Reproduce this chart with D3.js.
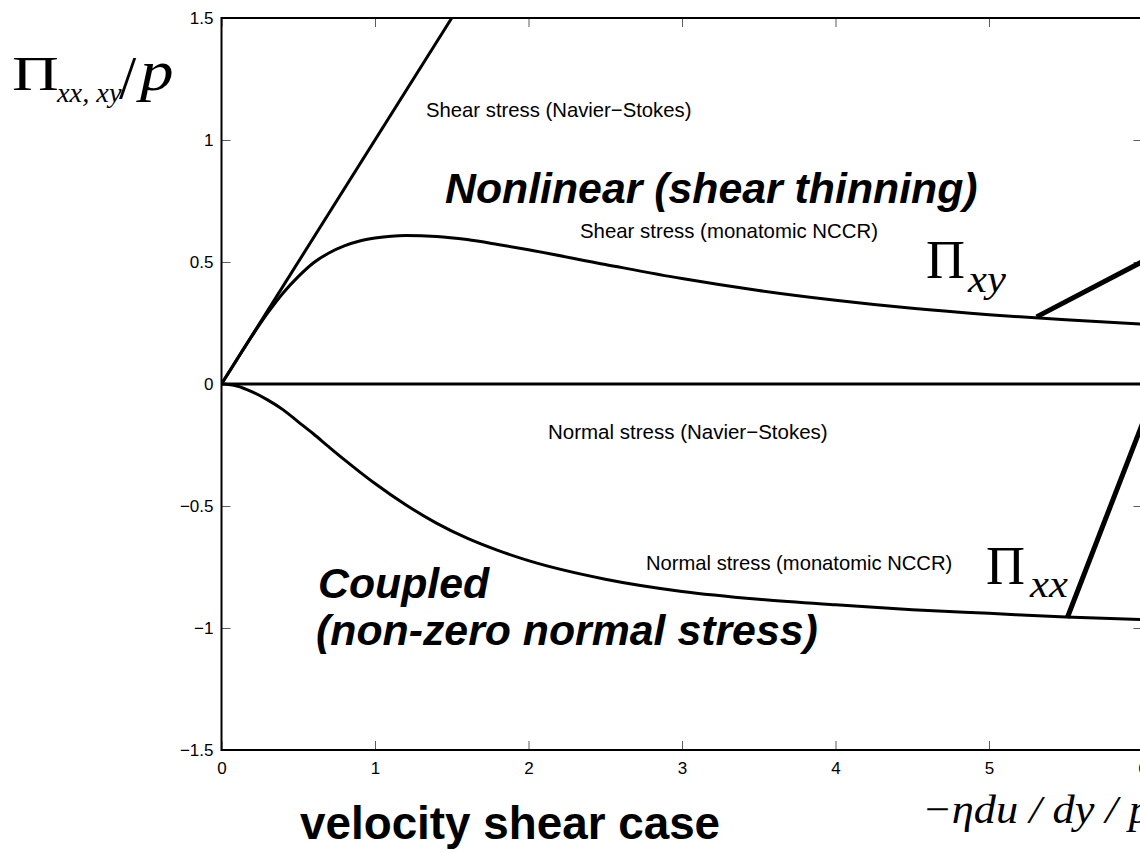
<!DOCTYPE html>
<html>
<head>
<meta charset="utf-8">
<script src="https://cdn.jsdelivr.net/npm/d3@7"></script>
<style>
html, body { margin: 0; padding: 0; background: #fff; overflow: hidden; }
svg { display: block; }
.sans { font-family: "Liberation Sans", Arial, Helvetica, sans-serif; }
.serif { font-family: "Liberation Serif", "Times New Roman", serif; }
</style>
</head>
<body>
<svg id="chart" width="1140" height="853"></svg>
<script>
// ---- data ----
const xValues = [0, 0.1, 0.2, 0.3, 0.4, 0.5, 0.6, 0.7, 0.8, 0.9, 1.0, 1.2, 1.4, 1.6, 1.8, 2.0, 2.5, 3.0, 3.5, 4.0, 4.5, 5.0, 5.5, 6.0];
const shearNCCR = [0, 0.1, 0.198, 0.29, 0.372, 0.44, 0.497, 0.537, 0.566, 0.586, 0.598, 0.609, 0.605, 0.592, 0.572, 0.55, 0.49, 0.432, 0.383, 0.343, 0.31, 0.284, 0.263, 0.245];
const normalNCCR = [0, -0.008, -0.032, -0.065, -0.105, -0.155, -0.205, -0.258, -0.31, -0.36, -0.408, -0.495, -0.57, -0.632, -0.682, -0.724, -0.80, -0.85, -0.882, -0.905, -0.925, -0.94, -0.955, -0.966];
const shearNSx = [0, 1.5];
const shearNSy = [0, 1.5];
const normalNSx = [0, 6];
const normalNSy = [0, 0];
const pointerXYx = [5.31, 6.3];
const pointerXYy = [0.275, 0.6];
const pointerXXx = [5.51, 6.05];
const pointerXXy = [-0.958, -0.08];
const xTicks = [0, 1, 2, 3, 4, 5, 6];
const yTicks = [-1.5, -1, -0.5, 0, 0.5, 1, 1.5];
const yTickLabels = ["\u22121.5", "\u22121", "\u22120.5", "0", "0.5", "1", "1.5"];

// ---- layout ----
const svg = d3.select("#chart");
const mLeft = 221.5, mTop = 18, unitX = 153.5, unitY = 244;
const x = d3.scaleLinear().domain([0, 6]).range([mLeft, mLeft + 6 * unitX]);
const y = d3.scaleLinear().domain([-1.5, 1.5]).range([mTop + 3 * unitY, mTop]);

const tickLen = 9;
const gAxes = svg.append("g");
const bottomAxis = d3.axisBottom(x).tickValues(xTicks).tickSize(-tickLen).tickFormat(d => d).tickPadding(12);
const topAxis = d3.axisTop(x).tickValues(xTicks).tickSize(-tickLen).tickFormat("");
const leftAxis = d3.axisLeft(y).tickValues(yTicks).tickSize(-tickLen).tickFormat((d, i) => yTickLabels[i]).tickPadding(8);
const rightAxis = d3.axisRight(y).tickValues(yTicks).tickSize(-tickLen).tickFormat("");

function styleAxis(g) {
  g.select(".domain").remove();
  g.selectAll(".tick line").attr("stroke", "#333").attr("stroke-width", 0.8);
  g.selectAll(".tick text").attr("class", "sans").attr("font-size", 17).attr("fill", "#000");
}
gAxes.append("g").attr("transform", `translate(0,${y(-1.5)})`).call(bottomAxis).call(styleAxis);
gAxes.append("g").attr("transform", `translate(0,${y(1.5)})`).call(topAxis).call(styleAxis);
gAxes.append("g").attr("transform", `translate(${x(0)},0)`).call(leftAxis).call(styleAxis);
gAxes.append("g").attr("transform", `translate(${x(6)},0)`).call(rightAxis).call(styleAxis);

// box
svg.append("rect")
  .attr("x", x(0)).attr("y", y(1.5))
  .attr("width", x(6) - x(0)).attr("height", y(-1.5) - y(1.5))
  .attr("fill", "none").attr("stroke", "#000").attr("stroke-width", 2);

// ---- curves ----
svg.append("clipPath").attr("id", "plotclip").append("rect")
  .attr("x", x(0)).attr("y", y(1.5)).attr("width", x(6) - x(0) + 20).attr("height", y(-1.5) - y(1.5));

const line = d3.line().x(d => x(d[0])).y(d => y(d[1]));
const smooth = d3.line().x(d => x(d[0])).y(d => y(d[1])).curve(d3.curveMonotoneX);
const plot = svg.append("g").attr("clip-path", "url(#plotclip)");

plot.append("path").attr("d", line(d3.zip(shearNSx, shearNSy)))
  .attr("fill", "none").attr("stroke", "#000").attr("stroke-width", 3);
plot.append("path").attr("d", line(d3.zip(normalNSx, normalNSy)))
  .attr("fill", "none").attr("stroke", "#000").attr("stroke-width", 3);
plot.append("path").attr("d", smooth(d3.zip(xValues, shearNCCR)))
  .attr("fill", "none").attr("stroke", "#000").attr("stroke-width", 3);
plot.append("path").attr("d", smooth(d3.zip(xValues, normalNCCR)))
  .attr("fill", "none").attr("stroke", "#000").attr("stroke-width", 3);

svg.append("path").attr("d", line(d3.zip(pointerXYx, pointerXYy)))
  .attr("fill", "none").attr("stroke", "#000").attr("stroke-width", 5);
svg.append("path").attr("d", line(d3.zip(pointerXXx, pointerXXy)))
  .attr("fill", "none").attr("stroke", "#000").attr("stroke-width", 5);

// ---- annotations ----
function sansText(tx, ty, str, size, weight, style) {
  svg.append("text").attr("class", "sans").attr("x", tx).attr("y", ty)
    .attr("font-size", size).attr("font-weight", weight || "normal")
    .attr("font-style", style || "normal").attr("fill", "#000").text(str);
}
sansText(426, 117, "Shear stress (Navier\u2212Stokes)", 20.3);
sansText(445, 203, "Nonlinear (shear thinning)", 42.8, "bold", "italic");
sansText(580, 238, "Shear stress (monatomic NCCR)", 20.4);
sansText(548, 439, "Normal stress (Navier\u2212Stokes)", 20.5);
sansText(646, 570, "Normal stress (monatomic NCCR)", 20.2);
sansText(318, 598, "Coupled", 42.8, "bold", "italic");
sansText(316, 645, "(non-zero normal stress)", 42.8, "bold", "italic");
sansText(300, 839, "velocity shear case", 45.8, "bold");

function mathText(tx, ty, str, size, italic, sx) {
  svg.append("text").attr("class", "serif").attr("font-size", size)
    .attr("font-style", italic ? "italic" : "normal").attr("fill", "#000")
    .attr("transform", `translate(${tx},${ty}) scale(${sx || 1},1)`).text(str);
}
// y label
mathText(12, 90, "\u03A0", 48, false, 1.35);
mathText(57, 102, "xx, xy", 27, true, 1.05);
mathText(119, 98, "/", 62, false, 1);
mathText(140, 90, "p", 56, true, 1.2);
// Pi_xy
mathText(926, 278, "\u03A0", 54, false, 1);
mathText(968, 292, "xy", 38, true, 1.12);
// Pi_xx
mathText(986, 584, "\u03A0", 54, false, 1);
mathText(1030, 597, "xx", 38, true, 1.12);
// x label
mathText(922, 823, "\u2212\u03B7du / dy / p", 41, true, 1.08);
</script>
</body>
</html>
